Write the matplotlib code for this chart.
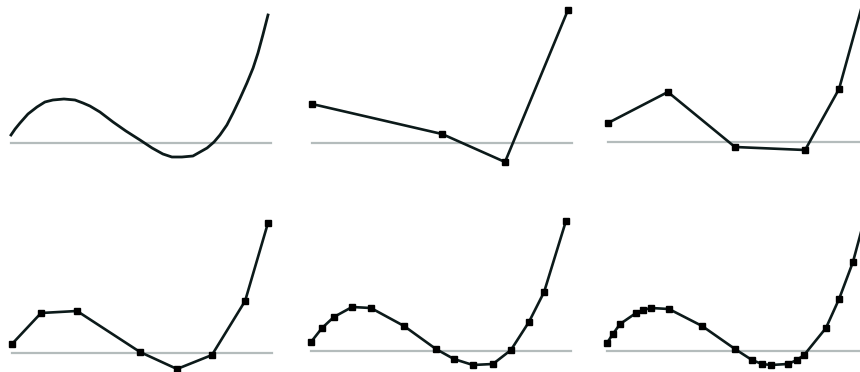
import matplotlib
matplotlib.use('Agg')
import matplotlib.pyplot as plt

# smooth curve (top left)
curve_x = [0, 0.16, 0.35, 0.66, 1.01, 1.32, 1.63, 2.06, 2.49, 2.80, 3.07, 3.46, 3.97, 4.47, 5.02,
           5.49, 5.91, 6.26, 6.65, 7.08, 7.63, 7.90, 8.13, 8.40, 8.64, 8.90, 9.18, 9.42, 9.61, 9.80, 10.0]
curve_y = [0.8, 1.4, 2.0, 2.9, 3.6, 4.1, 4.3, 4.4, 4.3, 4.0, 3.7, 3.1, 2.1, 1.2, 0.3,
           -0.5, -1.1, -1.4, -1.4, -1.3, -0.5, 0.1, 0.8, 1.8, 3.0, 4.4, 6.0, 7.5, 9.0, 10.8, 12.8]

# piecewise linear approximations
p2_x = [0, 5.06, 7.51, 9.96]
p2_y = [3.9, 0.9, -1.9, 13.3]

p3_x = [0, 2.33, 4.94, 7.67, 8.99, 10.0]
p3_y = [1.9, 5.0, -0.5, -0.8, 5.3, 14.7]

p4_x = [0, 1.13, 2.53, 4.98, 6.42, 7.78, 9.07, 9.96]
p4_y = [0.9, 4.0, 4.2, 0.1, -1.6, -0.2, 5.2, 13.0]

p5_x = [0, 0.43, 0.89, 1.60, 2.33, 3.62, 4.86, 5.56, 6.30, 7.08, 7.78, 8.48, 9.07, 9.92]
p5_y = [0.9, 2.3, 3.4, 4.4, 4.3, 2.5, 0.2, -0.8, -1.4, -1.3, 0.1, 2.9, 5.9, 13.0]

p6_x = [0, 0.23, 0.51, 1.13, 1.40, 1.71, 2.41, 3.70, 4.98, 5.64, 6.03, 6.38, 7.04, 7.39, 7.67, 8.52, 9.03, 9.57, 10.0]
p6_y = [0.8, 1.7, 2.7, 3.8, 4.1, 4.3, 4.2, 2.5, 0.2, -0.9, -1.3, -1.4, -1.3, -0.9, -0.4, 2.3, 5.2, 8.9, 13.0]

W, H = 860, 372
fig = plt.figure(figsize=(8.6, 3.72), dpi=100)

line_col = '#0c1a1a'
base_col = '#b4bcbc'
px_per_x = 25.7
xlo, xhi = -0.2, 10.4

# (x=0 pixel, top pixel of the row, baseline pixel, data, markers)
panels = [
    (11, 0, 143, curve_x, curve_y, False),
    (312, 0, 143, p2_x, p2_y, True),
    (608, 0, 142, p3_x, p3_y, True),
    (12, 186, 353, p4_x, p4_y, True),
    (311, 186, 351, p5_x, p5_y, True),
    (607, 186, 351, p6_x, p6_y, True),
]

for x0, top, base, xs, ys, marks in panels:
    left = x0 + xlo * px_per_x
    width = (xhi - xlo) * px_per_x
    ax = fig.add_axes([left / W, 1 - (top + 186) / H, width / W, 186 / H])
    ax.set_xlim(xlo, xhi)
    ax.set_ylim((base - (top + 186)) / 10.0, (base - top) / 10.0)
    ax.axhline(0, xmin=(0.0 - xlo) / (xhi - xlo), xmax=(10.1 - xlo) / (xhi - xlo),
               color=base_col, lw=1.6, zorder=1)
    if marks:
        ax.plot(xs, ys, color=line_col, lw=1.9, marker='s', markersize=4.0,
                markerfacecolor='black', markeredgecolor='black', zorder=2)
    else:
        ax.plot(xs, ys, color=line_col, lw=2.0, solid_joinstyle='round', zorder=2)
    ax.axis('off')

plt.savefig('out.png', dpi=100)
